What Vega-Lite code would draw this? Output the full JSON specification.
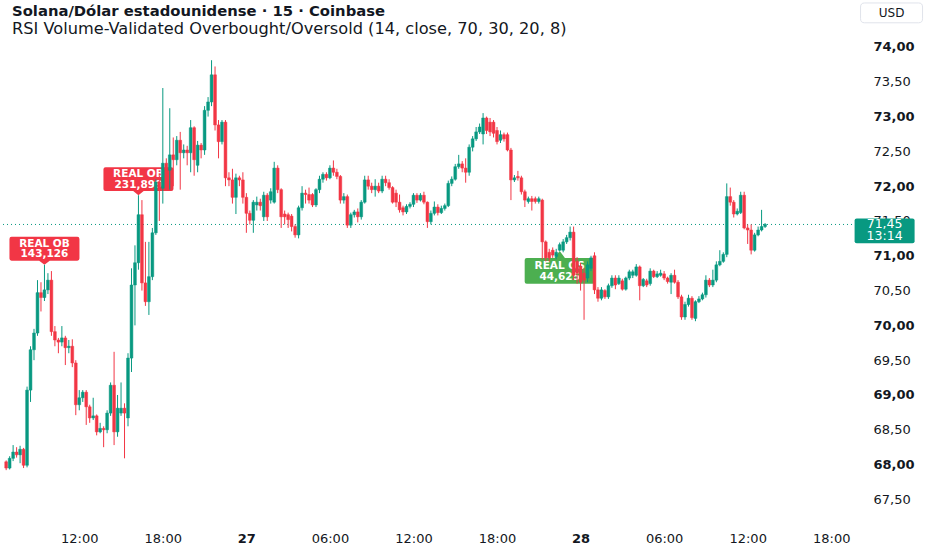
{
  "$schema": "https://vega.github.io/schema/vega-lite/v6.json",
  "width": 852,
  "height": 522,
  "autosize": {"type": "none"},
  "padding": {"left": 0, "top": 0, "right": 80, "bottom": 28},
  "background": "white",
  "title": {
    "text": "Solana/Dólar estadounidense · 15 · Coinbase",
    "subtitle": "RSI Volume-Validated Overbought/Oversold (14, close, 70, 30, 20, 8)",
    "anchor": "start",
    "frame": "group",
    "orient": "top",
    "offset": -37,
    "dx": 12,
    "font": "DejaVu Sans",
    "fontSize": 14.8,
    "fontWeight": "bold",
    "color": "#131722",
    "subtitleFont": "DejaVu Sans",
    "subtitleFontSize": 16.2,
    "subtitleColor": "#131722",
    "subtitlePadding": 2
  },
  "datasets": {
    "candles": [
      {"t": "2024-11-26T06:45:00Z", "o": 68.04, "h": 68.06, "l": 67.92, "c": 67.95},
      {"t": "2024-11-26T07:00:00Z", "o": 67.95, "h": 68.12, "l": 67.93, "c": 68.09},
      {"t": "2024-11-26T07:15:00Z", "o": 68.09, "h": 68.28, "l": 68.05, "c": 68.18},
      {"t": "2024-11-26T07:30:00Z", "o": 68.18, "h": 68.25, "l": 68.10, "c": 68.14},
      {"t": "2024-11-26T07:45:00Z", "o": 68.14, "h": 68.27, "l": 68.02, "c": 68.22},
      {"t": "2024-11-26T08:00:00Z", "o": 68.22, "h": 68.24, "l": 67.95, "c": 67.99},
      {"t": "2024-11-26T08:15:00Z", "o": 67.99, "h": 69.12, "l": 67.96, "c": 69.07},
      {"t": "2024-11-26T08:30:00Z", "o": 69.07, "h": 69.70, "l": 68.90, "c": 69.65},
      {"t": "2024-11-26T08:45:00Z", "o": 69.65, "h": 69.95, "l": 69.50, "c": 69.89},
      {"t": "2024-11-26T09:00:00Z", "o": 69.89, "h": 70.65, "l": 69.85, "c": 70.47},
      {"t": "2024-11-26T09:15:00Z", "o": 70.47, "h": 70.62, "l": 70.20, "c": 70.40},
      {"t": "2024-11-26T09:30:00Z", "o": 70.40, "h": 70.87, "l": 70.35, "c": 70.51},
      {"t": "2024-11-26T09:45:00Z", "o": 70.51, "h": 70.75, "l": 70.45, "c": 70.65},
      {"t": "2024-11-26T10:00:00Z", "o": 70.65, "h": 70.78, "l": 69.85, "c": 69.91},
      {"t": "2024-11-26T10:15:00Z", "o": 69.91, "h": 69.99, "l": 69.70, "c": 69.79},
      {"t": "2024-11-26T10:30:00Z", "o": 69.79, "h": 69.82, "l": 69.60, "c": 69.76},
      {"t": "2024-11-26T10:45:00Z", "o": 69.76, "h": 69.99, "l": 69.70, "c": 69.82},
      {"t": "2024-11-26T11:00:00Z", "o": 69.82, "h": 69.85, "l": 69.43, "c": 69.68},
      {"t": "2024-11-26T11:15:00Z", "o": 69.68, "h": 69.79, "l": 69.60, "c": 69.70},
      {"t": "2024-11-26T11:30:00Z", "o": 69.70, "h": 69.80, "l": 69.40, "c": 69.46},
      {"t": "2024-11-26T11:45:00Z", "o": 69.46, "h": 69.50, "l": 68.71, "c": 68.86},
      {"t": "2024-11-26T12:00:00Z", "o": 68.86, "h": 69.07, "l": 68.78, "c": 68.96},
      {"t": "2024-11-26T12:15:00Z", "o": 68.96, "h": 69.07, "l": 68.90, "c": 69.04},
      {"t": "2024-11-26T12:30:00Z", "o": 69.04, "h": 69.07, "l": 68.57, "c": 68.83},
      {"t": "2024-11-26T12:45:00Z", "o": 68.83, "h": 68.86, "l": 68.60, "c": 68.67},
      {"t": "2024-11-26T13:00:00Z", "o": 68.67, "h": 68.96, "l": 68.64, "c": 68.70},
      {"t": "2024-11-26T13:15:00Z", "o": 68.70, "h": 68.72, "l": 68.42, "c": 68.47},
      {"t": "2024-11-26T13:30:00Z", "o": 68.47, "h": 68.60, "l": 68.45, "c": 68.52},
      {"t": "2024-11-26T13:45:00Z", "o": 68.52, "h": 68.55, "l": 68.25, "c": 68.50},
      {"t": "2024-11-26T14:00:00Z", "o": 68.50, "h": 68.78, "l": 68.45, "c": 68.74},
      {"t": "2024-11-26T14:15:00Z", "o": 68.74, "h": 69.18, "l": 68.70, "c": 69.14},
      {"t": "2024-11-26T14:30:00Z", "o": 69.14, "h": 69.62, "l": 68.28, "c": 68.47},
      {"t": "2024-11-26T14:45:00Z", "o": 68.47, "h": 69.00, "l": 68.40, "c": 68.81},
      {"t": "2024-11-26T15:00:00Z", "o": 68.74, "h": 69.18, "l": 68.70, "c": 68.81},
      {"t": "2024-11-26T15:15:00Z", "o": 68.81, "h": 68.88, "l": 68.09, "c": 68.74},
      {"t": "2024-11-26T15:30:00Z", "o": 68.67, "h": 69.60, "l": 68.55, "c": 69.53},
      {"t": "2024-11-26T15:45:00Z", "o": 69.53, "h": 70.82, "l": 69.33, "c": 70.58},
      {"t": "2024-11-26T16:00:00Z", "o": 70.58, "h": 71.15, "l": 70.00, "c": 70.90},
      {"t": "2024-11-26T16:15:00Z", "o": 70.90, "h": 71.87, "l": 70.80, "c": 71.59},
      {"t": "2024-11-26T16:30:00Z", "o": 71.59, "h": 71.80, "l": 70.50, "c": 70.61},
      {"t": "2024-11-26T16:45:00Z", "o": 70.61, "h": 71.20, "l": 70.28, "c": 70.34},
      {"t": "2024-11-26T17:00:00Z", "o": 70.34, "h": 71.20, "l": 70.15, "c": 70.70},
      {"t": "2024-11-26T17:15:00Z", "o": 70.70, "h": 71.40, "l": 70.65, "c": 71.33},
      {"t": "2024-11-26T17:30:00Z", "o": 71.33, "h": 72.10, "l": 71.30, "c": 72.06},
      {"t": "2024-11-26T17:45:00Z", "o": 72.06, "h": 72.15, "l": 71.50, "c": 71.97},
      {"t": "2024-11-26T18:00:00Z", "o": 71.97, "h": 73.41, "l": 71.75, "c": 72.33},
      {"t": "2024-11-26T18:15:00Z", "o": 72.33, "h": 72.40, "l": 72.05, "c": 72.23},
      {"t": "2024-11-26T18:30:00Z", "o": 72.23, "h": 73.12, "l": 71.95, "c": 72.45},
      {"t": "2024-11-26T18:45:00Z", "o": 72.45, "h": 72.70, "l": 72.00, "c": 72.38},
      {"t": "2024-11-26T19:00:00Z", "o": 72.38, "h": 72.72, "l": 72.30, "c": 72.66},
      {"t": "2024-11-26T19:15:00Z", "o": 72.66, "h": 72.78, "l": 71.95, "c": 72.48},
      {"t": "2024-11-26T19:30:00Z", "o": 72.48, "h": 72.60, "l": 72.40, "c": 72.52},
      {"t": "2024-11-26T19:45:00Z", "o": 72.52, "h": 72.58, "l": 72.30, "c": 72.48},
      {"t": "2024-11-26T20:00:00Z", "o": 72.48, "h": 72.95, "l": 72.20, "c": 72.84},
      {"t": "2024-11-26T20:15:00Z", "o": 72.84, "h": 72.86, "l": 72.15, "c": 72.38},
      {"t": "2024-11-26T20:30:00Z", "o": 72.30, "h": 72.65, "l": 72.20, "c": 72.59},
      {"t": "2024-11-26T20:45:00Z", "o": 72.59, "h": 72.62, "l": 72.40, "c": 72.52},
      {"t": "2024-11-26T21:00:00Z", "o": 72.52, "h": 73.15, "l": 72.45, "c": 73.09},
      {"t": "2024-11-26T21:15:00Z", "o": 73.09, "h": 73.28, "l": 73.00, "c": 73.21},
      {"t": "2024-11-26T21:30:00Z", "o": 73.21, "h": 73.81, "l": 73.15, "c": 73.60},
      {"t": "2024-11-26T21:45:00Z", "o": 73.60, "h": 73.72, "l": 72.80, "c": 72.88},
      {"t": "2024-11-26T22:00:00Z", "o": 72.88, "h": 72.95, "l": 72.40, "c": 72.64},
      {"t": "2024-11-26T22:15:00Z", "o": 72.64, "h": 72.95, "l": 72.60, "c": 72.92},
      {"t": "2024-11-26T22:30:00Z", "o": 72.92, "h": 72.95, "l": 72.00, "c": 72.12},
      {"t": "2024-11-26T22:45:00Z", "o": 72.12, "h": 72.20, "l": 72.00, "c": 72.09},
      {"t": "2024-11-26T23:00:00Z", "o": 72.09, "h": 72.25, "l": 71.75, "c": 71.84},
      {"t": "2024-11-26T23:15:00Z", "o": 71.84, "h": 72.18, "l": 71.60, "c": 72.12},
      {"t": "2024-11-26T23:30:00Z", "o": 72.12, "h": 72.15, "l": 72.00, "c": 72.09},
      {"t": "2024-11-26T23:45:00Z", "o": 72.09, "h": 72.20, "l": 71.75, "c": 71.84},
      {"t": "2024-11-27T00:00:00Z", "o": 71.84, "h": 71.90, "l": 71.33, "c": 71.61},
      {"t": "2024-11-27T00:15:00Z", "o": 71.61, "h": 71.65, "l": 71.45, "c": 71.51},
      {"t": "2024-11-27T00:30:00Z", "o": 71.51, "h": 71.80, "l": 71.33, "c": 71.77},
      {"t": "2024-11-27T00:45:00Z", "o": 71.73, "h": 71.85, "l": 71.65, "c": 71.77},
      {"t": "2024-11-27T01:00:00Z", "o": 71.77, "h": 71.82, "l": 71.65, "c": 71.72},
      {"t": "2024-11-27T01:15:00Z", "o": 71.56, "h": 71.92, "l": 71.50, "c": 71.87},
      {"t": "2024-11-27T01:30:00Z", "o": 71.87, "h": 71.90, "l": 71.50, "c": 71.56},
      {"t": "2024-11-27T01:45:00Z", "o": 71.80, "h": 71.97, "l": 71.75, "c": 71.92},
      {"t": "2024-11-27T02:00:00Z", "o": 71.77, "h": 72.35, "l": 71.75, "c": 72.26},
      {"t": "2024-11-27T02:15:00Z", "o": 72.26, "h": 72.30, "l": 71.90, "c": 71.95},
      {"t": "2024-11-27T02:30:00Z", "o": 71.95, "h": 71.97, "l": 71.40, "c": 71.56},
      {"t": "2024-11-27T02:45:00Z", "o": 71.60, "h": 71.65, "l": 71.45, "c": 71.56},
      {"t": "2024-11-27T03:00:00Z", "o": 71.59, "h": 71.62, "l": 71.40, "c": 71.52},
      {"t": "2024-11-27T03:15:00Z", "o": 71.57, "h": 71.60, "l": 71.35, "c": 71.42},
      {"t": "2024-11-27T03:30:00Z", "o": 71.42, "h": 71.45, "l": 71.26, "c": 71.30},
      {"t": "2024-11-27T03:45:00Z", "o": 71.30, "h": 71.72, "l": 71.25, "c": 71.69},
      {"t": "2024-11-27T04:00:00Z", "o": 71.69, "h": 72.00, "l": 71.65, "c": 71.90},
      {"t": "2024-11-27T04:15:00Z", "o": 71.90, "h": 71.95, "l": 71.75, "c": 71.88},
      {"t": "2024-11-27T04:30:00Z", "o": 71.88, "h": 71.98, "l": 71.75, "c": 71.80},
      {"t": "2024-11-27T04:45:00Z", "o": 71.88, "h": 71.90, "l": 71.70, "c": 71.73},
      {"t": "2024-11-27T05:00:00Z", "o": 71.73, "h": 71.97, "l": 71.70, "c": 71.95},
      {"t": "2024-11-27T05:15:00Z", "o": 71.95, "h": 72.15, "l": 71.90, "c": 72.10},
      {"t": "2024-11-27T05:30:00Z", "o": 72.10, "h": 72.20, "l": 72.05, "c": 72.17},
      {"t": "2024-11-27T05:45:00Z", "o": 72.17, "h": 72.20, "l": 72.08, "c": 72.12},
      {"t": "2024-11-27T06:00:00Z", "o": 72.12, "h": 72.30, "l": 72.10, "c": 72.26},
      {"t": "2024-11-27T06:15:00Z", "o": 72.26, "h": 72.37, "l": 72.15, "c": 72.20},
      {"t": "2024-11-27T06:30:00Z", "o": 72.20, "h": 72.25, "l": 72.10, "c": 72.14},
      {"t": "2024-11-27T06:45:00Z", "o": 72.14, "h": 72.16, "l": 71.75, "c": 71.80},
      {"t": "2024-11-27T07:00:00Z", "o": 71.80, "h": 71.90, "l": 71.75, "c": 71.85},
      {"t": "2024-11-27T07:15:00Z", "o": 71.85, "h": 71.88, "l": 71.40, "c": 71.44},
      {"t": "2024-11-27T07:30:00Z", "o": 71.44, "h": 71.62, "l": 71.40, "c": 71.59},
      {"t": "2024-11-27T07:45:00Z", "o": 71.59, "h": 71.66, "l": 71.55, "c": 71.63},
      {"t": "2024-11-27T08:00:00Z", "o": 71.63, "h": 71.68, "l": 71.48, "c": 71.56},
      {"t": "2024-11-27T08:15:00Z", "o": 71.56, "h": 71.80, "l": 71.52, "c": 71.77},
      {"t": "2024-11-27T08:30:00Z", "o": 71.77, "h": 72.15, "l": 71.75, "c": 72.09},
      {"t": "2024-11-27T08:45:00Z", "o": 72.09, "h": 72.15, "l": 71.95, "c": 72.00},
      {"t": "2024-11-27T09:00:00Z", "o": 72.00, "h": 72.05, "l": 71.90, "c": 71.95},
      {"t": "2024-11-27T09:15:00Z", "o": 71.95, "h": 72.10, "l": 71.85, "c": 72.00},
      {"t": "2024-11-27T09:30:00Z", "o": 72.00, "h": 72.05, "l": 71.90, "c": 71.93},
      {"t": "2024-11-27T09:45:00Z", "o": 71.93, "h": 72.15, "l": 71.90, "c": 72.10},
      {"t": "2024-11-27T10:00:00Z", "o": 72.10, "h": 72.15, "l": 72.00, "c": 72.05},
      {"t": "2024-11-27T10:15:00Z", "o": 72.05, "h": 72.10, "l": 71.95, "c": 71.98},
      {"t": "2024-11-27T10:30:00Z", "o": 71.98, "h": 72.00, "l": 71.75, "c": 71.77},
      {"t": "2024-11-27T10:45:00Z", "o": 71.90, "h": 71.95, "l": 71.70, "c": 71.77},
      {"t": "2024-11-27T11:00:00Z", "o": 71.77, "h": 71.88, "l": 71.62, "c": 71.66},
      {"t": "2024-11-27T11:15:00Z", "o": 71.69, "h": 71.72, "l": 71.58, "c": 71.63},
      {"t": "2024-11-27T11:30:00Z", "o": 71.63, "h": 71.74, "l": 71.60, "c": 71.71},
      {"t": "2024-11-27T11:45:00Z", "o": 71.71, "h": 71.77, "l": 71.68, "c": 71.74},
      {"t": "2024-11-27T12:00:00Z", "o": 71.74, "h": 71.90, "l": 71.70, "c": 71.87},
      {"t": "2024-11-27T12:15:00Z", "o": 71.87, "h": 71.90, "l": 71.76, "c": 71.80},
      {"t": "2024-11-27T12:30:00Z", "o": 71.80, "h": 71.90, "l": 71.78, "c": 71.87},
      {"t": "2024-11-27T12:45:00Z", "o": 71.87, "h": 71.92, "l": 71.74, "c": 71.77},
      {"t": "2024-11-27T13:00:00Z", "o": 71.77, "h": 71.78, "l": 71.40, "c": 71.49},
      {"t": "2024-11-27T13:15:00Z", "o": 71.49, "h": 71.65, "l": 71.45, "c": 71.61},
      {"t": "2024-11-27T13:30:00Z", "o": 71.61, "h": 71.78, "l": 71.58, "c": 71.70},
      {"t": "2024-11-27T13:45:00Z", "o": 71.70, "h": 71.74, "l": 71.58, "c": 71.62},
      {"t": "2024-11-27T14:00:00Z", "o": 71.62, "h": 71.72, "l": 71.60, "c": 71.68},
      {"t": "2024-11-27T14:15:00Z", "o": 71.68, "h": 71.75, "l": 71.65, "c": 71.72},
      {"t": "2024-11-27T14:30:00Z", "o": 71.72, "h": 72.08, "l": 71.70, "c": 72.04},
      {"t": "2024-11-27T14:45:00Z", "o": 72.04, "h": 72.14, "l": 72.00, "c": 72.10},
      {"t": "2024-11-27T15:00:00Z", "o": 72.10, "h": 72.32, "l": 72.08, "c": 72.28},
      {"t": "2024-11-27T15:15:00Z", "o": 72.28, "h": 72.45, "l": 72.25, "c": 72.32},
      {"t": "2024-11-27T15:30:00Z", "o": 72.32, "h": 72.36, "l": 72.20, "c": 72.26},
      {"t": "2024-11-27T15:45:00Z", "o": 72.26, "h": 72.40, "l": 72.05, "c": 72.20},
      {"t": "2024-11-27T16:00:00Z", "o": 72.20, "h": 72.60, "l": 72.15, "c": 72.56},
      {"t": "2024-11-27T16:15:00Z", "o": 72.56, "h": 72.72, "l": 72.50, "c": 72.68},
      {"t": "2024-11-27T16:30:00Z", "o": 72.68, "h": 72.85, "l": 72.65, "c": 72.78},
      {"t": "2024-11-27T16:45:00Z", "o": 72.78, "h": 72.90, "l": 72.75, "c": 72.85},
      {"t": "2024-11-27T17:00:00Z", "o": 72.75, "h": 73.05, "l": 72.60, "c": 72.98},
      {"t": "2024-11-27T17:15:00Z", "o": 72.98, "h": 73.00, "l": 72.75, "c": 72.80},
      {"t": "2024-11-27T17:30:00Z", "o": 72.92, "h": 72.98, "l": 72.72, "c": 72.78},
      {"t": "2024-11-27T17:45:00Z", "o": 72.92, "h": 72.95, "l": 72.70, "c": 72.76},
      {"t": "2024-11-27T18:00:00Z", "o": 72.80, "h": 72.85, "l": 72.60, "c": 72.64},
      {"t": "2024-11-27T18:15:00Z", "o": 72.66, "h": 72.80, "l": 72.62, "c": 72.74},
      {"t": "2024-11-27T18:30:00Z", "o": 72.74, "h": 72.77, "l": 72.64, "c": 72.68},
      {"t": "2024-11-27T18:45:00Z", "o": 72.74, "h": 72.77, "l": 72.50, "c": 72.52},
      {"t": "2024-11-27T19:00:00Z", "o": 72.52, "h": 72.55, "l": 71.80, "c": 72.09},
      {"t": "2024-11-27T19:15:00Z", "o": 72.09, "h": 72.16, "l": 72.06, "c": 72.12},
      {"t": "2024-11-27T19:30:00Z", "o": 72.14, "h": 72.22, "l": 72.08, "c": 72.12},
      {"t": "2024-11-27T19:45:00Z", "o": 72.12, "h": 72.15, "l": 71.88, "c": 71.92},
      {"t": "2024-11-27T20:00:00Z", "o": 71.92, "h": 71.95, "l": 71.70, "c": 71.80},
      {"t": "2024-11-27T20:15:00Z", "o": 71.78, "h": 71.85, "l": 71.75, "c": 71.82},
      {"t": "2024-11-27T20:30:00Z", "o": 71.82, "h": 71.86, "l": 71.65, "c": 71.78},
      {"t": "2024-11-27T20:45:00Z", "o": 71.82, "h": 71.85, "l": 71.75, "c": 71.78},
      {"t": "2024-11-27T21:00:00Z", "o": 71.78, "h": 71.85, "l": 71.75, "c": 71.82},
      {"t": "2024-11-27T21:15:00Z", "o": 71.80, "h": 71.82, "l": 70.95, "c": 71.20},
      {"t": "2024-11-27T21:30:00Z", "o": 71.20, "h": 71.22, "l": 70.92, "c": 70.97},
      {"t": "2024-11-27T21:45:00Z", "o": 71.05, "h": 71.10, "l": 70.92, "c": 70.97},
      {"t": "2024-11-27T22:00:00Z", "o": 71.08, "h": 71.12, "l": 70.97, "c": 71.01},
      {"t": "2024-11-27T22:15:00Z", "o": 70.99, "h": 71.10, "l": 70.95, "c": 71.05},
      {"t": "2024-11-27T22:30:00Z", "o": 71.08, "h": 71.19, "l": 71.07, "c": 71.16},
      {"t": "2024-11-27T22:45:00Z", "o": 71.08, "h": 71.24, "l": 71.05, "c": 71.20},
      {"t": "2024-11-27T23:00:00Z", "o": 71.20, "h": 71.30, "l": 71.17, "c": 71.26},
      {"t": "2024-11-27T23:15:00Z", "o": 71.26, "h": 71.42, "l": 71.22, "c": 71.34},
      {"t": "2024-11-27T23:30:00Z", "o": 71.34, "h": 71.42, "l": 70.65, "c": 70.72},
      {"t": "2024-11-27T23:45:00Z", "o": 70.92, "h": 70.98, "l": 70.60, "c": 70.75},
      {"t": "2024-11-28T00:00:00Z", "o": 70.85, "h": 70.90, "l": 70.50, "c": 70.62},
      {"t": "2024-11-28T00:15:00Z", "o": 70.75, "h": 70.82, "l": 70.08, "c": 70.65},
      {"t": "2024-11-28T00:30:00Z", "o": 70.68, "h": 70.92, "l": 70.62, "c": 70.87},
      {"t": "2024-11-28T00:45:00Z", "o": 70.82, "h": 71.00, "l": 70.78, "c": 70.97},
      {"t": "2024-11-28T01:00:00Z", "o": 71.00, "h": 71.05, "l": 70.45, "c": 70.51},
      {"t": "2024-11-28T01:15:00Z", "o": 70.51, "h": 70.55, "l": 70.34, "c": 70.39},
      {"t": "2024-11-28T01:30:00Z", "o": 70.39, "h": 70.55, "l": 70.36, "c": 70.51},
      {"t": "2024-11-28T01:45:00Z", "o": 70.50, "h": 70.52, "l": 70.38, "c": 70.41},
      {"t": "2024-11-28T02:00:00Z", "o": 70.41, "h": 70.60, "l": 70.38, "c": 70.57},
      {"t": "2024-11-28T02:15:00Z", "o": 70.57, "h": 70.72, "l": 70.54, "c": 70.68},
      {"t": "2024-11-28T02:30:00Z", "o": 70.68, "h": 70.72, "l": 70.52, "c": 70.58},
      {"t": "2024-11-28T02:45:00Z", "o": 70.60, "h": 70.72, "l": 70.58, "c": 70.68},
      {"t": "2024-11-28T03:00:00Z", "o": 70.64, "h": 70.67, "l": 70.50, "c": 70.52},
      {"t": "2024-11-28T03:15:00Z", "o": 70.52, "h": 70.70, "l": 70.50, "c": 70.68},
      {"t": "2024-11-28T03:30:00Z", "o": 70.68, "h": 70.80, "l": 70.65, "c": 70.77},
      {"t": "2024-11-28T03:45:00Z", "o": 70.72, "h": 70.80, "l": 70.68, "c": 70.77},
      {"t": "2024-11-28T04:00:00Z", "o": 70.72, "h": 70.88, "l": 70.70, "c": 70.84},
      {"t": "2024-11-28T04:15:00Z", "o": 70.84, "h": 70.86, "l": 70.36, "c": 70.57},
      {"t": "2024-11-28T04:30:00Z", "o": 70.57, "h": 70.68, "l": 70.55, "c": 70.66},
      {"t": "2024-11-28T04:45:00Z", "o": 70.64, "h": 70.67, "l": 70.55, "c": 70.58},
      {"t": "2024-11-28T05:00:00Z", "o": 70.60, "h": 70.82, "l": 70.57, "c": 70.78},
      {"t": "2024-11-28T05:15:00Z", "o": 70.78, "h": 70.80, "l": 70.68, "c": 70.70},
      {"t": "2024-11-28T05:30:00Z", "o": 70.70, "h": 70.78, "l": 70.68, "c": 70.74},
      {"t": "2024-11-28T05:45:00Z", "o": 70.72, "h": 70.80, "l": 70.70, "c": 70.75},
      {"t": "2024-11-28T06:00:00Z", "o": 70.74, "h": 70.78, "l": 70.65, "c": 70.68},
      {"t": "2024-11-28T06:15:00Z", "o": 70.68, "h": 70.70, "l": 70.60, "c": 70.63},
      {"t": "2024-11-28T06:30:00Z", "o": 70.62, "h": 70.75, "l": 70.45, "c": 70.72},
      {"t": "2024-11-28T06:45:00Z", "o": 70.72, "h": 70.80, "l": 70.60, "c": 70.62},
      {"t": "2024-11-28T07:00:00Z", "o": 70.62, "h": 70.65, "l": 70.38, "c": 70.41},
      {"t": "2024-11-28T07:15:00Z", "o": 70.41, "h": 70.44, "l": 70.08, "c": 70.12},
      {"t": "2024-11-28T07:30:00Z", "o": 70.12, "h": 70.34, "l": 70.08, "c": 70.30},
      {"t": "2024-11-28T07:45:00Z", "o": 70.30, "h": 70.44, "l": 70.27, "c": 70.39},
      {"t": "2024-11-28T08:00:00Z", "o": 70.39, "h": 70.42, "l": 70.08, "c": 70.11},
      {"t": "2024-11-28T08:15:00Z", "o": 70.10, "h": 70.36, "l": 70.06, "c": 70.34},
      {"t": "2024-11-28T08:30:00Z", "o": 70.34, "h": 70.42, "l": 70.32, "c": 70.38},
      {"t": "2024-11-28T08:45:00Z", "o": 70.38, "h": 70.47, "l": 70.36, "c": 70.44},
      {"t": "2024-11-28T09:00:00Z", "o": 70.44, "h": 70.72, "l": 70.40, "c": 70.65},
      {"t": "2024-11-28T09:15:00Z", "o": 70.65, "h": 70.68, "l": 70.55, "c": 70.58},
      {"t": "2024-11-28T09:30:00Z", "o": 70.58, "h": 70.80, "l": 70.55, "c": 70.65},
      {"t": "2024-11-28T09:45:00Z", "o": 70.65, "h": 70.92, "l": 70.62, "c": 70.87},
      {"t": "2024-11-28T10:00:00Z", "o": 70.87, "h": 71.08, "l": 70.85, "c": 70.92},
      {"t": "2024-11-28T10:15:00Z", "o": 70.92, "h": 71.05, "l": 70.90, "c": 71.02},
      {"t": "2024-11-28T10:30:00Z", "o": 71.02, "h": 72.04, "l": 70.98, "c": 71.85},
      {"t": "2024-11-28T10:45:00Z", "o": 71.85, "h": 71.98, "l": 71.72, "c": 71.77},
      {"t": "2024-11-28T11:00:00Z", "o": 71.77, "h": 71.80, "l": 71.55, "c": 71.60},
      {"t": "2024-11-28T11:15:00Z", "o": 71.60, "h": 71.68, "l": 71.58, "c": 71.64},
      {"t": "2024-11-28T11:30:00Z", "o": 71.62, "h": 71.92, "l": 71.60, "c": 71.87},
      {"t": "2024-11-28T11:45:00Z", "o": 71.87, "h": 71.92, "l": 71.38, "c": 71.40},
      {"t": "2024-11-28T12:00:00Z", "o": 71.40, "h": 71.45, "l": 71.17, "c": 71.37},
      {"t": "2024-11-28T12:15:00Z", "o": 71.37, "h": 71.45, "l": 71.02, "c": 71.08},
      {"t": "2024-11-28T12:30:00Z", "o": 71.08, "h": 71.33, "l": 71.06, "c": 71.30},
      {"t": "2024-11-28T12:45:00Z", "o": 71.30, "h": 71.42, "l": 71.28, "c": 71.37},
      {"t": "2024-11-28T13:00:00Z", "o": 71.37, "h": 71.66, "l": 71.35, "c": 71.42},
      {"t": "2024-11-28T13:15:00Z", "o": 71.42, "h": 71.47, "l": 71.40, "c": 71.45}
    ],
    "signals": [
      {"t": "2024-11-26T09:30:00Z", "p": 70.87, "kind": "OB", "label": "REAL OB", "vol": 143.126},
      {"t": "2024-11-26T16:15:00Z", "p": 71.87, "kind": "OB", "label": "REAL OB", "vol": 231.899},
      {"t": "2024-11-27T22:30:00Z", "p": 71.07, "kind": "OS", "label": "REAL OS", "vol": 44.625}
    ],
    "last": [
      {"price": 71.45, "countdown": "13:14", "currency": "USD"}
    ]
  },
  "layer": [
    {
      "data": {"name": "last"},
      "mark": {"type": "rule", "color": "#089981", "strokeWidth": 1, "strokeDash": [1, 3]},
      "encoding": {
        "y": {"field": "price", "type": "quantitative", "scale": {"domain": [67.175, 74.675], "zero": false, "nice": false}}
      }
    },
    {
      "data": {"name": "signals"},
      "transform": [{"filter": "datum.kind == 'OB'"}],
      "mark": {
        "type": "point",
        "shape": "M-0.94,-0.8L0.94,-0.8Q1,-0.8 1,-0.74L1,-0.18Q1,-0.12 0.94,-0.12L0.15,-0.12L0,0L-0.15,-0.12L-0.94,-0.12Q-1,-0.12 -1,-0.18L-1,-0.74Q-1,-0.8 -0.94,-0.8Z",
        "size": 4900,
        "filled": true,
        "color": "#F23645",
        "opacity": 1,
        "strokeWidth": 0
      },
      "encoding": {
        "x": {"field": "t", "type": "temporal"},
        "y": {"field": "p", "type": "quantitative"}
      }
    },
    {
      "data": {"name": "signals"},
      "transform": [{"filter": "datum.kind == 'OS'"}],
      "mark": {
        "type": "point",
        "shape": "M-0.94,0.2L-0.15,0.2L0,0L0.15,0.2L0.94,0.2Q1,0.2 1,0.26L1,0.88Q1,0.94 0.94,0.94L-0.94,0.94Q-1,0.94 -1,0.88L-1,0.26Q-1,0.2 -0.94,0.2Z",
        "size": 4900,
        "filled": true,
        "color": "#4CAF50",
        "opacity": 1,
        "strokeWidth": 0
      },
      "encoding": {
        "x": {"field": "t", "type": "temporal"},
        "y": {"field": "p", "type": "quantitative"}
      }
    },
    {
      "data": {"name": "signals"},
      "transform": [{"filter": "datum.kind == 'OB'"}],
      "mark": {"type": "text", "font": "DejaVu Sans", "fontSize": 10.5, "fontWeight": "bold", "color": "white", "align": "center", "baseline": "middle", "dy": -21},
      "encoding": {
        "x": {"field": "t", "type": "temporal"},
        "y": {"field": "p", "type": "quantitative"},
        "text": {"field": "label"}
      }
    },
    {
      "data": {"name": "signals"},
      "transform": [{"filter": "datum.kind == 'OB'"}],
      "mark": {"type": "text", "font": "DejaVu Sans", "fontSize": 10.5, "fontWeight": "bold", "color": "white", "align": "center", "baseline": "middle", "dy": -10.5},
      "encoding": {
        "x": {"field": "t", "type": "temporal"},
        "y": {"field": "p", "type": "quantitative"},
        "text": {"field": "vol", "type": "quantitative", "format": ".3f"}
      }
    },
    {
      "data": {"name": "signals"},
      "transform": [{"filter": "datum.kind == 'OS'"}],
      "mark": {"type": "text", "font": "DejaVu Sans", "fontSize": 10.5, "fontWeight": "bold", "color": "white", "align": "center", "baseline": "middle", "dy": 15},
      "encoding": {
        "x": {"field": "t", "type": "temporal"},
        "y": {"field": "p", "type": "quantitative"},
        "text": {"field": "label"}
      }
    },
    {
      "data": {"name": "signals"},
      "transform": [{"filter": "datum.kind == 'OS'"}],
      "mark": {"type": "text", "font": "DejaVu Sans", "fontSize": 10.5, "fontWeight": "bold", "color": "white", "align": "center", "baseline": "middle", "dy": 26},
      "encoding": {
        "x": {"field": "t", "type": "temporal"},
        "y": {"field": "p", "type": "quantitative"},
        "text": {"field": "vol", "type": "quantitative", "format": ".3f"}
      }
    },
    {
      "data": {"name": "candles"},
      "mark": {"type": "rule", "strokeWidth": 1},
      "encoding": {
        "x": {
          "field": "t",
          "type": "temporal",
          "scale": {
            "type": "utc",
            "domain": [
              {"year": 2024, "month": 11, "date": 26, "hours": 6, "minutes": 40, "utc": true},
              {"year": 2024, "month": 11, "date": 28, "hours": 19, "minutes": 8, "utc": true}
            ]
          },
          "axis": {
            "values": [
              {"year": 2024, "month": 11, "date": 26, "hours": 12, "utc": true},
              {"year": 2024, "month": 11, "date": 26, "hours": 18, "utc": true},
              {"year": 2024, "month": 11, "date": 27, "hours": 0, "utc": true},
              {"year": 2024, "month": 11, "date": 27, "hours": 6, "utc": true},
              {"year": 2024, "month": 11, "date": 27, "hours": 12, "utc": true},
              {"year": 2024, "month": 11, "date": 27, "hours": 18, "utc": true},
              {"year": 2024, "month": 11, "date": 28, "hours": 0, "utc": true},
              {"year": 2024, "month": 11, "date": 28, "hours": 6, "utc": true},
              {"year": 2024, "month": 11, "date": 28, "hours": 12, "utc": true},
              {"year": 2024, "month": 11, "date": 28, "hours": 18, "utc": true}
            ],
            "labelExpr": "utchours(datum.value) == 0 ? utcFormat(datum.value, '%d') : utcFormat(datum.value, '%H:%M')",
            "labelFontWeight": {"condition": {"test": "utchours(datum.value) == 0", "value": "bold"}, "value": "normal"},
            "title": null,
            "domain": false,
            "ticks": false,
            "grid": false,
            "labelFont": "DejaVu Sans",
            "labelFontSize": 13,
            "labelColor": "#131722",
            "labelPadding": 10,
            "labelOverlap": false,
            "labelFlush": false
          }
        },
        "y": {
          "field": "l",
          "type": "quantitative",
          "scale": {"domain": [67.175, 74.675], "zero": false, "nice": false},
          "axis": {
            "orient": "right",
            "values": [67.5, 68, 68.5, 69, 69.5, 70, 70.5, 71, 71.5, 72, 72.5, 73, 73.5, 74],
            "format": ".2f",
            "labelFontWeight": {"condition": {"test": "datum.value % 1 == 0", "value": "bold"}, "value": "normal"},
            "title": null,
            "domain": false,
            "ticks": false,
            "grid": false,
            "labelFont": "DejaVu Sans",
            "labelFontSize": 13,
            "labelColor": "#131722",
            "labelAlign": "left",
            "labelPadding": 21
          }
        },
        "y2": {"field": "h"},
        "color": {"condition": {"test": "datum.c >= datum.o", "value": "#089981"}, "value": "#F23645"}
      }
    },
    {
      "data": {"name": "candles"},
      "mark": {"type": "bar", "width": 2.8, "strokeWidth": 0.5},
      "encoding": {
        "x": {"field": "t", "type": "temporal"},
        "y": {"field": "o", "type": "quantitative"},
        "y2": {"field": "c"},
        "color": {"condition": {"test": "datum.c >= datum.o", "value": "#089981"}, "value": "#F23645"},
        "stroke": {"condition": {"test": "datum.c >= datum.o", "value": "#089981"}, "value": "#F23645"}
      }
    },
    {
      "data": {"name": "last"},
      "mark": {
        "type": "point",
        "shape": "M-0.93,-0.2L0.93,-0.2Q1,-0.2 1,-0.13L1,0.56Q1,0.63 0.93,0.63L-0.93,0.63Q-1,0.63 -1,0.56L-1,-0.13Q-1,-0.2 -0.93,-0.2Z",
        "size": 3600,
        "filled": true,
        "color": "#089981",
        "opacity": 1,
        "strokeWidth": 0
      },
      "encoding": {
        "x": {"datum": {"year": 2024, "month": 11, "date": 28, "hours": 21, "minutes": 50, "utc": true}, "type": "temporal"},
        "y": {"field": "price", "type": "quantitative"}
      }
    },
    {
      "data": {"name": "last"},
      "mark": {"type": "text", "font": "DejaVu Sans", "fontSize": 12.5, "color": "white", "align": "center", "baseline": "middle"},
      "encoding": {
        "x": {"datum": {"year": 2024, "month": 11, "date": 28, "hours": 21, "minutes": 50, "utc": true}, "type": "temporal"},
        "y": {"field": "price", "type": "quantitative"},
        "text": {"field": "price", "type": "quantitative", "format": ".2f"}
      }
    },
    {
      "data": {"name": "last"},
      "mark": {"type": "text", "font": "DejaVu Sans", "fontSize": 12.5, "color": "white", "align": "center", "baseline": "middle", "dy": 12},
      "encoding": {
        "x": {"datum": {"year": 2024, "month": 11, "date": 28, "hours": 21, "minutes": 50, "utc": true}, "type": "temporal"},
        "y": {"field": "price", "type": "quantitative"},
        "text": {"field": "countdown"}
      }
    },
    {
      "data": {"name": "last"},
      "mark": {
        "type": "point",
        "shape": "M-0.87,-0.32L0.87,-0.32Q1,-0.32 1,-0.19L1,0.19Q1,0.32 0.87,0.32L-0.87,0.32Q-1,0.32 -1,0.19L-1,-0.19Q-1,-0.32 -0.87,-0.32Z",
        "size": 3844,
        "filled": false,
        "fill": "white",
        "stroke": "#E0E3EB",
        "strokeWidth": 1,
        "opacity": 1
      },
      "encoding": {
        "x": {"datum": {"year": 2024, "month": 11, "date": 28, "hours": 22, "minutes": 20, "utc": true}, "type": "temporal"},
        "y": {"datum": 74.49, "type": "quantitative"}
      }
    },
    {
      "data": {"name": "last"},
      "mark": {"type": "text", "font": "DejaVu Sans", "fontSize": 12, "color": "#131722", "align": "center", "baseline": "middle"},
      "encoding": {
        "x": {"datum": {"year": 2024, "month": 11, "date": 28, "hours": 22, "minutes": 20, "utc": true}, "type": "temporal"},
        "y": {"datum": 74.49, "type": "quantitative"},
        "text": {"field": "currency"}
      }
    }
  ],
  "config": {
    "view": {"stroke": null},
    "locale": {
      "number": {"decimal": ",", "thousands": ".", "grouping": [3], "currency": ["", " $"]}
    }
  }
}
